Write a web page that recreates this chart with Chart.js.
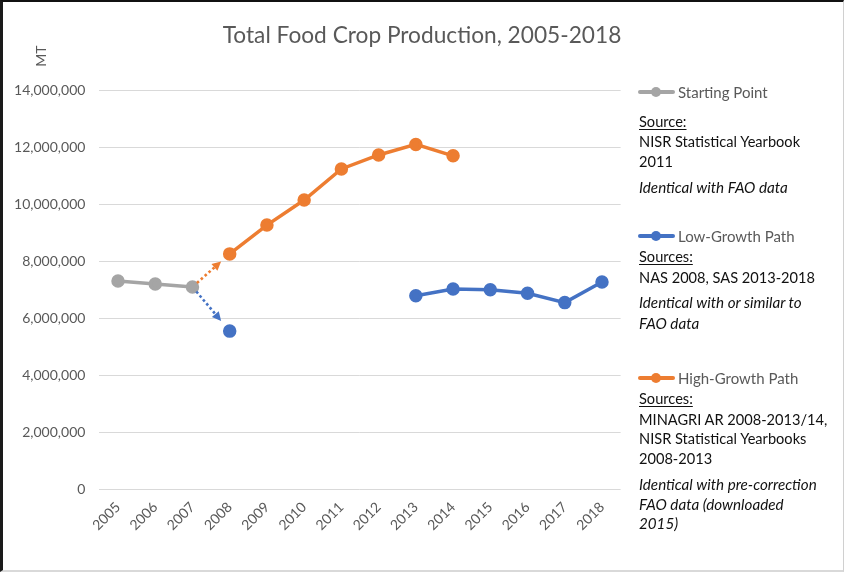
<!DOCTYPE html>
<html>
<head>
<meta charset="utf-8">
<script src="https://cdn.jsdelivr.net/npm/chart.js@4/dist/chart.umd.min.js"></script>
<style>
  html, body { margin: 0; padding: 0; background: #fff; }
  #wrap { position: relative; width: 844px; height: 572px; overflow: hidden; font-family: Lato, "Open Sans", sans-serif; }
  #chart { position: absolute; left: 0; top: 0; }
  .frame { position: absolute; left: 0; top: 0; width: 844px; height: 572px; box-sizing: border-box;
           border-top: 2px solid #111; border-left: 3px solid #1a1a1a; border-right: 1px solid #d0d0d0; border-bottom: 2px solid #d9d9d9; pointer-events: none; }
  .ln { position: absolute; left: 639px; height: 20px; line-height: 20px; font-size: 14.6px; color: #111; white-space: nowrap; }
  .it { font-style: italic; font-size: 15.2px; }
  .ul { text-decoration: underline; text-underline-offset: 2px; }
  .lg { position: absolute; left: 638px; height: 20px; }
  .lg .bar { position: absolute; left: 0; top: 8px; width: 37px; height: 4px; border-radius: 2px; }
  .lg .dot { position: absolute; left: 13px; top: 5px; width: 10px; height: 10px; border-radius: 50%; }
  .lg .txt { position: absolute; left: 40px; top: 0; line-height: 20px; font-size: 15px; color: #595959; white-space: nowrap; }
</style>
</head>
<body>
<div id="wrap">
  <canvas id="chart" width="844" height="572"></canvas>

  <div class="lg" style="top:82px"><div class="bar" style="background:#a5a5a5"></div><div class="dot" style="background:#a5a5a5"></div><div class="txt">Starting Point</div></div>
  <div class="ln ul" style="top:112px">Source:</div>
  <div class="ln" style="top:132px">NISR Statistical Yearbook</div>
  <div class="ln" style="top:152px">2011</div>
  <div class="ln it" style="top:177px">Identical with FAO data</div>

  <div class="lg" style="top:226px"><div class="bar" style="background:#4472c4"></div><div class="dot" style="background:#4472c4"></div><div class="txt">Low-Growth Path</div></div>
  <div class="ln ul" style="top:247px">Sources:</div>
  <div class="ln" style="top:268px">NAS 2008, SAS 2013-2018</div>
  <div class="ln it" style="top:292px">Identical with or similar to</div>
  <div class="ln it" style="top:313px">FAO data</div>

  <div class="lg" style="top:368px"><div class="bar" style="background:#ed7d31"></div><div class="dot" style="background:#ed7d31"></div><div class="txt">High-Growth Path</div></div>
  <div class="ln ul" style="top:389px">Sources:</div>
  <div class="ln" style="top:410px">MINAGRI AR 2008-2013/14,</div>
  <div class="ln" style="top:429px">NISR Statistical Yearbooks</div>
  <div class="ln" style="top:449px">2008-2013</div>
  <div class="ln it" style="top:474px">Identical with pre-correction</div>
  <div class="ln it" style="top:494px">FAO data (downloaded</div>
  <div class="ln it" style="top:513px">2015)</div>

  <div class="frame"></div>
</div>
<script>
// Total food crop production (MT), by year
const years = ['2005','2006','2007','2008','2009','2010','2011','2012','2013','2014','2015','2016','2017','2018'];

const startingPoint = [7300000, 7190000, 7090000, null, null, null, null, null, null, null, null, null, null, null];
const lowGrowth     = [null, null, null, 5540000, null, null, null, null, 6780000, 7020000, 6990000, 6870000, 6540000, 7260000];
const highGrowth    = [null, null, null, 8250000, 9260000, 10140000, 11230000, 11720000, 12090000, 11690000, null, null, null, null];

const yMin = 0, yMax = 14000000, yStep = 2000000;

const GREY = '#a5a5a5', BLUE = '#4472c4', ORANGE = '#ed7d31', TEXT = '#595959';

// Dotted arrows from the last starting point toward the first point of each path
const branchArrows = {
  id: 'branchArrows',
  afterDatasetsDraw(chart) {
    const { ctx, scales: { x, y } } = chart;
    const from = startingPoint.findLastIndex(v => v !== null);
    const x0 = x.getPixelForValue(from), y0 = y.getPixelForValue(startingPoint[from]);
    const targets = [[highGrowth, ORANGE], [lowGrowth, BLUE]];
    targets.forEach(([series, color]) => {
      const to = series.findIndex(v => v !== null);
      const x1 = x.getPixelForValue(to), y1 = y.getPixelForValue(series[to]);
      const dx = x1 - x0, dy = y1 - y0;
      const len = Math.hypot(dx, dy);
      const ux = dx / len, uy = dy / len;
      const sx = x0 + ux * 6, sy = y0 + uy * 6;
      const tx = x0 + dx * 0.77, ty = y0 + dy * 0.77;
      const head = 9, half = 4.5;
      const bx = tx - ux * head, by = ty - uy * head;
      ctx.save();
      ctx.strokeStyle = color;
      ctx.fillStyle = color;
      ctx.lineWidth = 2.6;
      ctx.setLineDash([2.6, 2.6]);
      ctx.beginPath();
      ctx.moveTo(sx, sy);
      ctx.lineTo(bx, by);
      ctx.stroke();
      ctx.setLineDash([]);
      ctx.beginPath();
      ctx.moveTo(tx, ty);
      ctx.lineTo(bx - uy * half, by + ux * half);
      ctx.lineTo(bx + uy * half, by - ux * half);
      ctx.closePath();
      ctx.fill();
      ctx.restore();
    });
  }
};

// Title and unit label
const headings = {
  id: 'headings',
  afterDraw(chart) {
    const { ctx } = chart;
    ctx.save();
    ctx.fillStyle = TEXT;
    ctx.font = '22.7px Lato, sans-serif';
    ctx.textAlign = 'center';
    ctx.textBaseline = 'middle';
    ctx.fillText('Total Food Crop Production, 2005-2018', 422, 36);
    ctx.translate(41, 56);
    ctx.rotate(-Math.PI / 2);
    ctx.font = '14px Lato, sans-serif';
    ctx.fillText('MT', 0, 0);
    ctx.restore();
  }
};

const lineStyle = (color) => ({
  borderColor: color,
  backgroundColor: color,
  pointBackgroundColor: color,
  pointBorderColor: color,
  borderWidth: 3.5,
  pointRadius: 5,
  pointHoverRadius: 5,
  spanGaps: false,
  tension: 0,
  fill: false
});

new Chart(document.getElementById('chart'), {
  type: 'line',
  data: {
    labels: years,
    datasets: [
      { label: 'Starting Point', data: startingPoint, ...lineStyle(GREY) },
      { label: 'Low-Growth Path', data: lowGrowth, ...lineStyle(BLUE) },
      { label: 'High-Growth Path', data: highGrowth, ...lineStyle(ORANGE) }
    ]
  },
  options: {
    responsive: false,
    animation: false,
    layout: { padding: { left: 0, top: 90, right: 223.4, bottom: 0 } },
    plugins: { legend: { display: false }, title: { display: false }, tooltip: { enabled: false } },
    scales: {
      x: {
        offset: true,
        grid: { display: false, drawTicks: false },
        border: { display: false },
        ticks: {
          color: TEXT, font: { family: 'Lato', size: 14 },
          minRotation: 45, maxRotation: 45, padding: 10, autoSkip: false
        },
        afterFit(scale) { scale.height = 83; }
      },
      y: {
        min: yMin, max: yMax,
        grid: { color: '#d9d9d9', lineWidth: 1, drawTicks: false },
        border: { display: false },
        ticks: {
          stepSize: yStep, color: TEXT, font: { family: 'Lato', size: 14 }, padding: 14,
          callback: (v) => Number(v).toLocaleString('en-US')
        },
        afterFit(scale) { scale.width = 99.4; }
      }
    }
  },
  plugins: [branchArrows, headings]
});
</script>
</body>
</html>
